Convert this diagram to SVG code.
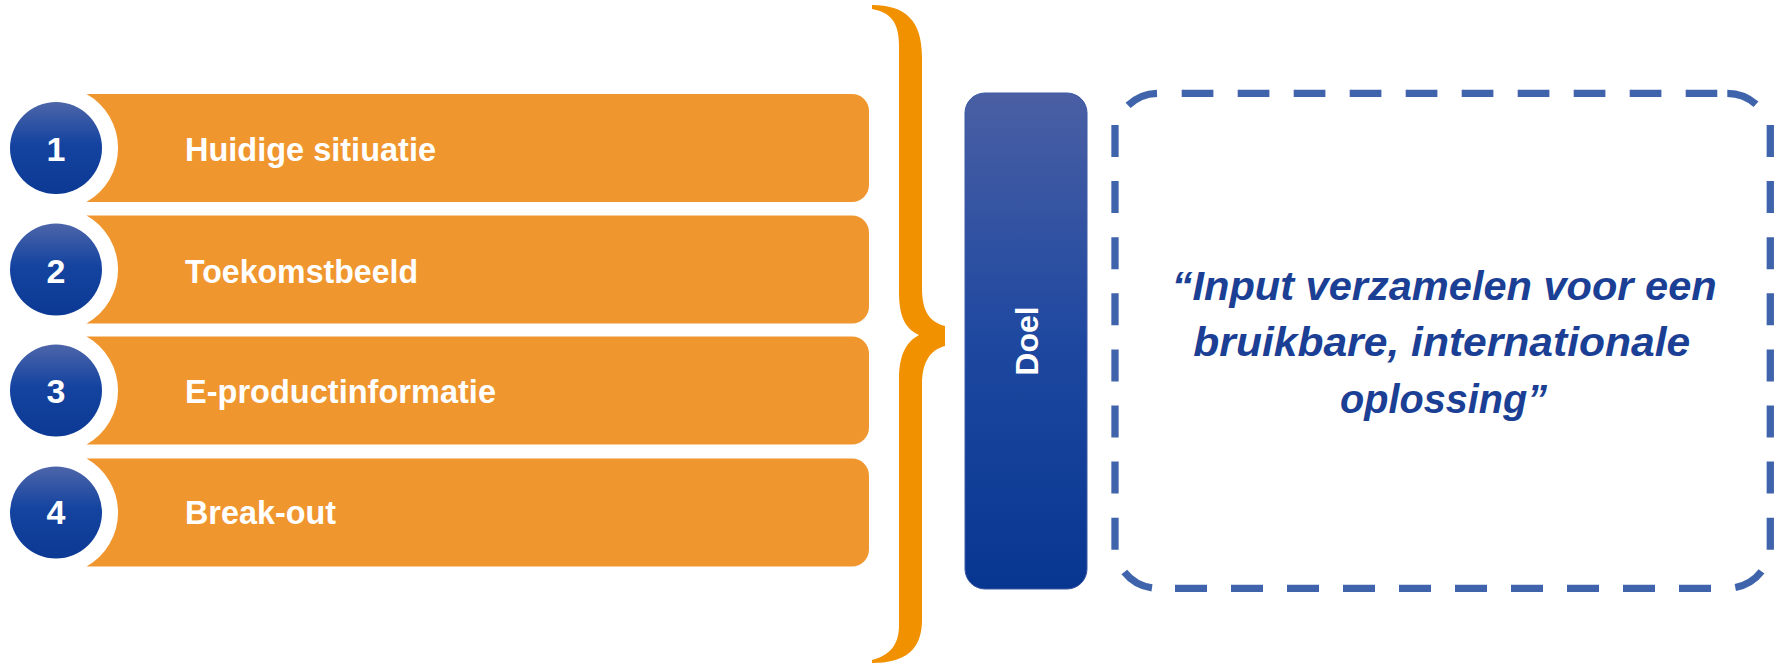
<svg xmlns="http://www.w3.org/2000/svg" width="1777" height="665" viewBox="0 0 1777 665">
  <style>
    .bar { fill: #F0962F; }
    .num { fill: url(#circGrad); }
    .numtxt { font-family: "Liberation Sans", Arial, sans-serif; font-weight: bold; font-size: 34px; fill: #ffffff; text-anchor: middle; }
    .lbl { font-family: "Liberation Sans", Arial, sans-serif; font-weight: bold; font-size: 34px; fill: #ffffff; }
    .quote { font-family: "Liberation Sans", Arial, sans-serif; font-weight: bold; font-style: italic; font-size: 41px; fill: #1B3F94; }
    .dash { fill: none; stroke: #4064AB; stroke-width: 7.3; }
  </style>
  <defs>
    <linearGradient id="circGrad" x1="0" y1="0" x2="0" y2="1">
      <stop offset="0" stop-color="#4D65A9"/>
      <stop offset="0.45" stop-color="#1544A0"/>
      <stop offset="1" stop-color="#0B3994"/>
    </linearGradient>
    <linearGradient id="doelGrad" x1="0" y1="0" x2="0" y2="1">
      <stop offset="0" stop-color="#4A5FA4"/>
      <stop offset="0.5" stop-color="#1E48A0"/>
      <stop offset="1" stop-color="#073690"/>
    </linearGradient>
  </defs>

  <g id="step1">
    <path class="bar" d="M86.5,94 H852 A17,17 0 0 1 869,111 V185 A17,17 0 0 1 852,202 H86.5 A62,62 0 0 0 86.5,94 Z"/>
    <circle class="num" cx="56" cy="148" r="46"/>
    <text class="numtxt" x="56" y="161">1</text>
    <text class="lbl" x="185" y="161" textLength="251" lengthAdjust="spacingAndGlyphs">Huidige sitiuatie</text>
  </g>
  <g id="step2">
    <path class="bar" d="M86.5,215.5 H852 A17,17 0 0 1 869,232.5 V306.5 A17,17 0 0 1 852,323.5 H86.5 A62,62 0 0 0 86.5,215.5 Z"/>
    <circle class="num" cx="56" cy="269.5" r="46"/>
    <text class="numtxt" x="56" y="283">2</text>
    <text class="lbl" x="185" y="283" textLength="233" lengthAdjust="spacingAndGlyphs">Toekomstbeeld</text>
  </g>
  <g id="step3">
    <path class="bar" d="M86.5,336.5 H852 A17,17 0 0 1 869,353.5 V427.5 A17,17 0 0 1 852,444.5 H86.5 A62,62 0 0 0 86.5,336.5 Z"/>
    <circle class="num" cx="56" cy="390.5" r="46"/>
    <text class="numtxt" x="56" y="403">3</text>
    <text class="lbl" x="185" y="403" textLength="311" lengthAdjust="spacingAndGlyphs">E-productinformatie</text>
  </g>
  <g id="step4">
    <path class="bar" d="M86.5,458.5 H852 A17,17 0 0 1 869,475.5 V549.5 A17,17 0 0 1 852,566.5 H86.5 A62,62 0 0 0 86.5,458.5 Z"/>
    <circle class="num" cx="56" cy="512.5" r="46"/>
    <text class="numtxt" x="56" y="524">4</text>
    <text class="lbl" x="185" y="524" textLength="151" lengthAdjust="spacingAndGlyphs">Break-out</text>
  </g>

  <g id="brace">
    <path fill="#F29100" d="M872,5 C905,5 922,20 922,57 L922,288 C922,312 930,322 945,326 L945,346 C930,350 922,362 922,385 L922,620 C922,650 905,663 872,663 L872,660 C890,655 899,645 899,625 L899,380 C899,355 906,342 919,335 C906,329 899,318 899,292 L899,45 C899,22 890,12 872,9 Z"/>
  </g>

  <g id="doel">
    <rect x="965" y="93" width="122" height="496" rx="20" ry="20" fill="url(#doelGrad)" stroke="#3A58A4" stroke-width="1"/>
    <text transform="translate(1038,341) rotate(-90)" font-family="Liberation Sans, Arial, sans-serif" font-weight="bold" font-size="32" fill="#ffffff" text-anchor="middle">Doel</text>
  </g>

  <g id="goal">
    <g>
      <line class="dash" x1="1181.7" y1="93.3" x2="1717.3" y2="93.3" stroke-dasharray="31.7 24.3"/>
      <line class="dash" x1="1175" y1="588.3" x2="1711.3" y2="588.3" stroke-dasharray="32 24"/>
      <line class="dash" x1="1115" y1="125" x2="1115" y2="550" stroke-dasharray="32 24.1"/>
      <line class="dash" x1="1770.3" y1="125" x2="1770.3" y2="550" stroke-dasharray="32 24.1"/>
      <path class="dash" d="M1128.1,105.4 A43,43 0 0 1 1157,93.3"/>
      <path class="dash" d="M1727.3,93.3 A43,43 0 0 1 1756,104.3"/>
      <path class="dash" d="M1124.3,572 A43,43 0 0 0 1152,587.9"/>
      <path class="dash" d="M1735.3,587.5 A43,43 0 0 0 1761.5,571.4"/>
    </g>
    <text class="quote" x="1171.7" y="299.5" textLength="545" lengthAdjust="spacingAndGlyphs">“Input verzamelen voor een</text>
    <text class="quote" x="1193.3" y="356" textLength="497" lengthAdjust="spacingAndGlyphs">bruikbare, internationale</text>
    <text class="quote" x="1340" y="413" textLength="207" lengthAdjust="spacingAndGlyphs">oplossing”</text>
  </g>
</svg>
